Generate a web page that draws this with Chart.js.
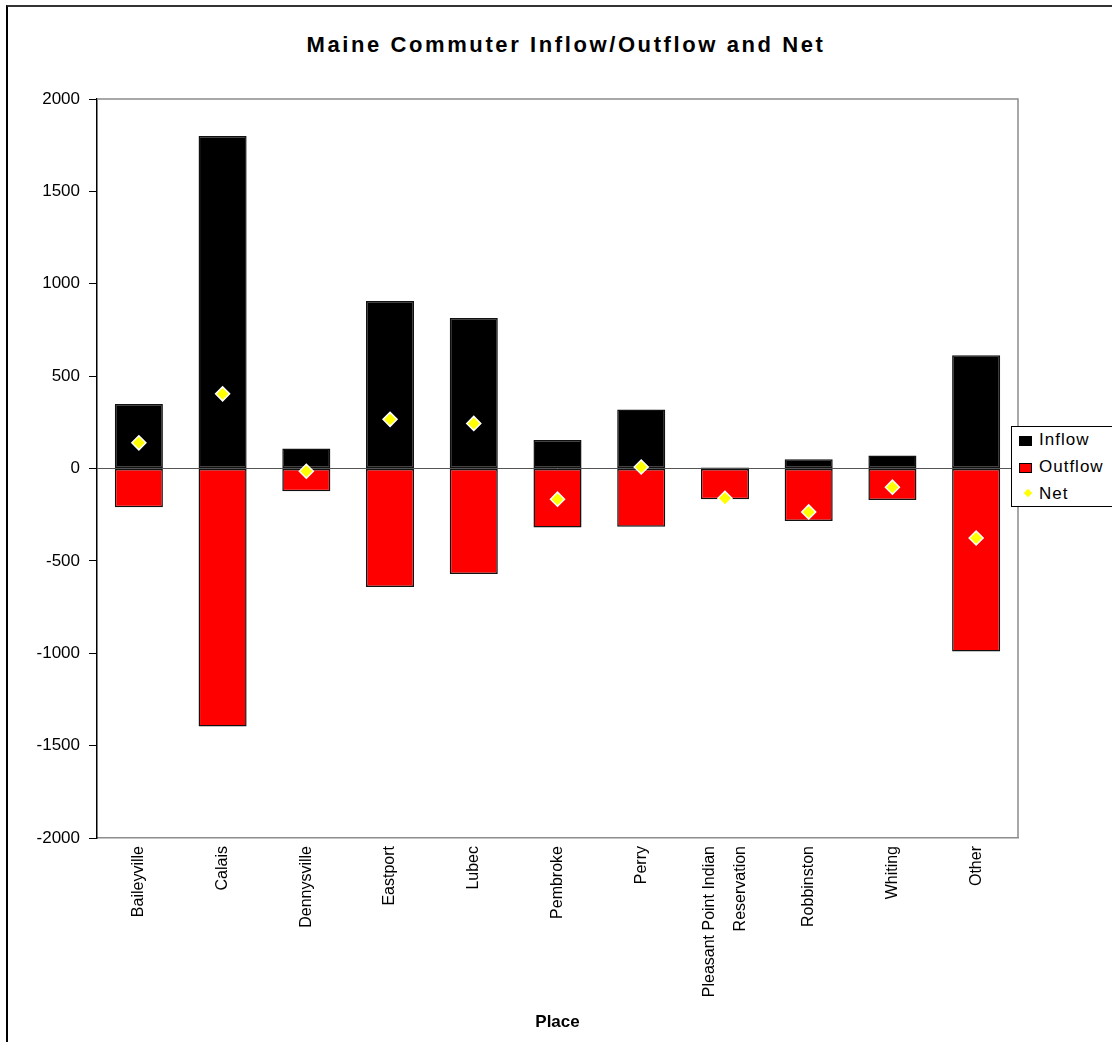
<!DOCTYPE html>
<html>
<head>
<meta charset="utf-8">
<title>Maine Commuter Inflow/Outflow and Net</title>
<script src="https://cdn.jsdelivr.net/npm/chart.js@4"></script>
<style>
  html, body { margin: 0; padding: 0; background: #fff; overflow: hidden; }
  body { width: 1112px; height: 1042px; position: relative; font-family: "Liberation Sans", Arial, sans-serif; }
  .marco { position: absolute; left: 6px; top: 5px; width: 2000px; height: 2000px; border-top: 2px solid #333; border-left: 2px solid #000; }
  .titulo { position: absolute; left: 0; top: 32px; width: 1132px; text-align: center; font-weight: bold; font-size: 22px; line-height: 26px; letter-spacing: 2.6px; color: #000; }
  .contenedor { position: absolute; left: 0; top: 0; width: 1112px; height: 1042px; }
  .leyenda { position: absolute; left: 1011px; top: 426px; width: 120px; height: 79px; border: 1px solid #000; background: #fff; }
  .item { position: absolute; left: 0; height: 20px; font-size: 17px; letter-spacing: 1px; line-height: 20px; }
  .item span { position: absolute; left: 27px; top: 0; white-space: nowrap; }
  .caja { position: absolute; left: 7px; top: 6px; width: 11px; height: 8px; border: 1px solid #000; }
  .rombo { position: absolute; left: 13px; top: 6px; width: 6px; height: 6px; transform: rotate(45deg); }
</style>
</head>
<body>
<div class="marco"></div>
<div class="titulo" id="titulo-principal"></div>
<div class="contenedor"><canvas id="graficaCommuter"></canvas></div>
<div class="leyenda" id="leyenda"></div>

<script>
// 1. Data
const chartTitle = "Maine Commuter Inflow/Outflow and Net";
const axisTitle = "Place";
const places = [
  "Baileyville", "Calais", "Dennysville", "Eastport", "Lubec", "Pembroke", "Perry",
  ["Pleasant Point Indian", "Reservation"], "Robbinston", "Whiting", "Other"
];
const inflow = [349, 1800, 108, 907, 815, 154, 320, 6, 50, 71, 613];
const outflow = [-210, -1396, -123, -641, -571, -320, -315, -167, -284, -171, -991];
const net = [139, 404, -15, 266, 244, -166, 8, -161, -235, -101, -376];
const yTicks = [-2000, -1500, -1000, -500, 0, 500, 1000, 1500, 2000];

const seriesNames = ["Inflow", "Outflow", "Net"];
const seriesColors = ["#000000", "#ff0000", "#ffff00"];

Chart.defaults.font.family = '"Liberation Sans", Arial, sans-serif';
Chart.defaults.color = "#000";

// 2. Plot frame (top and right edges, grey like the reference)
const marcoPlot = {
  id: "marcoPlot",
  afterDraw(chart) {
    const { ctx, chartArea: a } = chart;
    ctx.save();
    ctx.strokeStyle = "#8c8c8c";
    ctx.lineWidth = 1.5;
    ctx.beginPath();
    ctx.moveTo(a.left, a.top);
    ctx.lineTo(a.right, a.top);
    ctx.lineTo(a.right, a.bottom);
    ctx.stroke();
    ctx.restore();
  },
};

// 3. Center the two-line rotated label on its category (Chart.js starts it at the tick)
const centrarEtiquetas = {
  id: "centrarEtiquetas",
  beforeDraw(chart) {
    const escala = chart.scales.x;
    const items = escala.getLabelItems(chart.chartArea);
    items.forEach((item) => {
      if (Array.isArray(item.label) && !item._centrado) {
        const lh = item.font.lineHeight;
        item.options.translation[0] -= ((item.label.length - 1) * lh) / 2;
        item._centrado = true;
      }
    });
  },
};

// 4. Legend built from the series arrays
function crearLeyenda() {
  const leyenda = document.getElementById("leyenda");
  leyenda.innerHTML = seriesNames
    .map((nombre, i) => {
      const marca = i === 2
        ? `<div class="rombo" style="background:${seriesColors[i]}"></div>`
        : `<div class="caja" style="background:${seriesColors[i]}"></div>`;
      return `<div class="item" style="top:${3 + i * 27}px">${marca}<span>${nombre}</span></div>`;
    })
    .join("");
}

// 5. Chart
function crearGrafica() {
  document.getElementById("titulo-principal").innerText = chartTitle;
  const ctx = document.getElementById("graficaCommuter").getContext("2d");

  new Chart(ctx, {
    type: "bar",
    data: {
      labels: places,
      datasets: [
        {
          label: seriesNames[0],
          data: inflow,
          backgroundColor: seriesColors[0],
          borderColor: "#111",
          borderWidth: 1.5,
          borderSkipped: false,
          barPercentage: 0.574,
          categoryPercentage: 1,
        },
        {
          label: seriesNames[1],
          data: outflow,
          backgroundColor: seriesColors[1],
          borderColor: "#111",
          borderWidth: 1.5,
          borderSkipped: false,
          barPercentage: 0.574,
          categoryPercentage: 1,
        },
        {
          type: "line",
          label: seriesNames[2],
          data: net,
          showLine: false,
          order: -1,
          pointStyle: "rectRot",
          pointRadius: 7,
          pointBackgroundColor: seriesColors[2],
          pointBorderColor: "#fff",
          pointBorderWidth: 1.5,
        },
      ],
    },
    options: {
      responsive: true,
      maintainAspectRatio: false,
      animation: false,
      layout: { padding: { left: 0, right: 94, top: 99, bottom: 0 } },
      plugins: {
        legend: { display: false },
        tooltip: { enabled: false },
      },
      scales: {
        x: {
          stacked: true,
          grid: { display: false, drawTicks: false },
          border: { display: true, color: "#8c8c8c", width: 1.5 },
          ticks: {
            autoSkip: false,
            maxRotation: 90,
            minRotation: 90,
            padding: 8,
            font: { size: 16, lineHeight: 1.9 },
          },
          title: {
            display: true,
            text: axisTitle,
            font: { size: 17, weight: "bold" },
            padding: { top: 0, bottom: 9 },
          },
          afterFit(scale) { scale.height = 204; },
        },
        y: {
          stacked: true,
          min: yTicks[0],
          max: yTicks[yTicks.length - 1],
          afterBuildTicks(scale) { scale.ticks = yTicks.map((v) => ({ value: v })); },
          grid: {
            drawTicks: true,
            tickLength: 8,
            tickColor: "#000",
            color: (c) => (c.tick && c.tick.value === 0 ? "#555" : "rgba(0,0,0,0)"),
          },
          border: { display: true, color: "#000", width: 1.5 },
          ticks: { padding: 9, font: { size: 17 }, callback: (v) => String(v) },
          afterFit(scale) { scale.width = 97; },
        },
      },
    },
    plugins: [marcoPlot, centrarEtiquetas],
  });
}

// 6. Init
document.addEventListener("DOMContentLoaded", () => {
  crearLeyenda();
  crearGrafica();
});
</script>
</body>
</html>
